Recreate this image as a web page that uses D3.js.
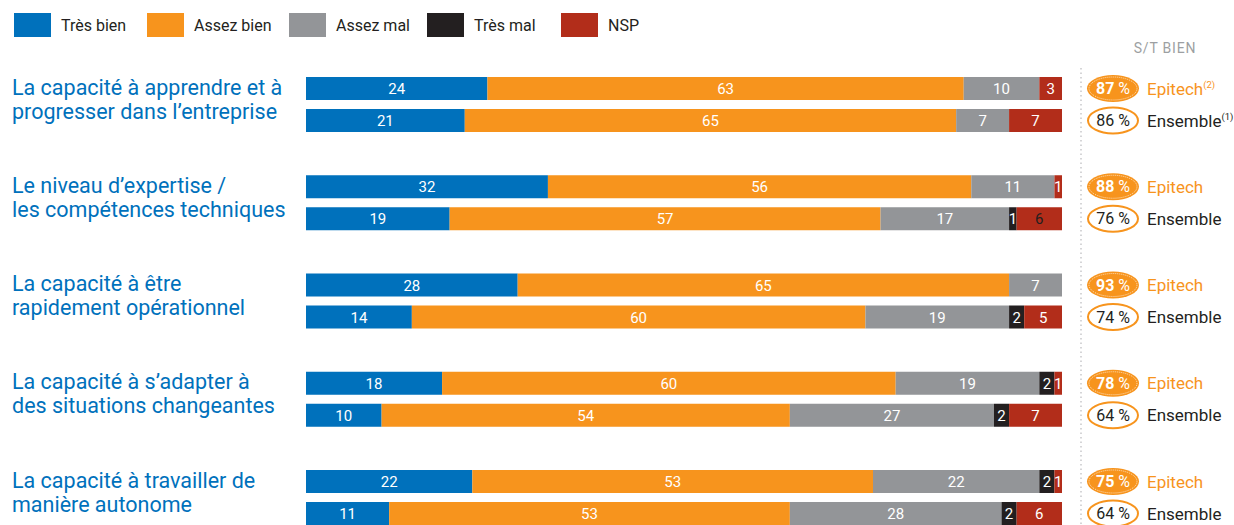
<!DOCTYPE html>
<html>
<head>
<meta charset="utf-8">
<script src="https://cdn.jsdelivr.net/npm/d3@7"></script>
<style>
  html, body { margin: 0; padding: 0; background: #fff; }
  svg { display: block; font-family: Roboto, "Noto Sans", sans-serif; }
</style>
</head>
<body>
<svg id="chart" width="1234" height="525"></svg>
<script>
// ---- DATA ----
const categories = [
  ["La capacité à apprendre et à", "progresser dans l\u2019entreprise"],
  ["Le niveau d\u2019expertise /", "les compétences techniques"],
  ["La capacité à être", "rapidement opérationnel"],
  ["La capacité à s\u2019adapter à", "des situations changeantes"],
  ["La capacité à travailler de", "manière autonome"]
];
const groups = ["Epitech", "Ensemble"];
const seriesNames = ["Très bien", "Assez bien", "Assez mal", "Très mal", "NSP"];
// values per row: [cat0-Epitech, cat0-Ensemble, cat1-Epitech, ...]
const tresBien  = [24, 21, 32, 19, 28, 14, 18, 10, 22, 11];
const assezBien = [63, 65, 56, 57, 65, 60, 60, 54, 53, 53];
const assezMal  = [10, 7, 11, 17, 7, 19, 19, 27, 22, 28];
const tresMal   = [0, 0, 0, 1, 0, 2, 2, 2, 2, 2];
const nsp       = [3, 7, 1, 6, 0, 5, 1, 7, 1, 6];
const stEpitech  = [87, 88, 93, 78, 75];
const stEnsemble = [86, 76, 74, 64, 64];
const groupNotes = ["(2)", "(1)"];

// ---- STYLE ----
const colors = ["#0071bc", "#f7941d", "#939598", "#231f20", "#b22d1a"];
const blue = "#0071bc", orange = "#f7941d", dark = "#231f20";

const svg = d3.select("#chart");
const seriesValues = [tresBien, assezBien, assezMal, tresMal, nsp];

const x = d3.scaleLinear().domain([0, 100]).range([306, 1062]);
const catIdx = d3.range(categories.length);
const yCat = d3.scalePoint().domain(catIdx).range([77, 470]);
const yGrp = d3.scaleBand().domain(groups).range([0, 55]).paddingInner(0.28125);
const color = d3.scaleOrdinal().domain(seriesNames).range(colors);

// legend
const legendX = d3.scaleOrdinal().domain(seriesNames).range([14, 147, 289, 427, 561]);
const leg = svg.append("g").selectAll("g").data(seriesNames).join("g")
  .attr("transform", d => `translate(${legendX(d)},13)`);
leg.append("rect").attr("width", 37).attr("height", 24).attr("fill", d => color(d));
leg.append("text").attr("x", 47).attr("y", 18).attr("font-size", 16).attr("fill", dark).text(d => d);

// header
svg.append("text").attr("x", 1165).attr("y", 53).attr("text-anchor", "middle")
  .attr("font-size", 14).attr("letter-spacing", 0.8).attr("fill", "#9d9fa2").text("S/T BIEN");

// dotted separator
svg.append("line").attr("x1", 1081).attr("x2", 1081).attr("y1", 68).attr("y2", 525)
  .attr("stroke", "#c8c8ca").attr("stroke-width", 1.5).attr("stroke-dasharray", "1.5,3");

// rows
const rows = [];
catIdx.forEach(c => groups.forEach((g, gi) => {
  const r = c * 2 + gi;
  let acc = 0;
  const segs = seriesNames.map((s, si) => {
    const v = seriesValues[si][r];
    const seg = { s, si, v, x0: acc, x1: acc + v, r, c, g };
    acc += v;
    return seg;
  }).filter(d => d.v > 0);
  rows.push({ c, g, gi, r, segs });
}));

const rowG = svg.append("g").selectAll("g").data(rows).join("g")
  .attr("transform", d => `translate(0,${yCat(d.c) + yGrp(d.g)})`);
const bh = yGrp.bandwidth();

rowG.selectAll("rect").data(d => d.segs).join("rect")
  .attr("x", d => x(d.x0)).attr("width", d => x(d.x1) - x(d.x0))
  .attr("y", 0).attr("height", bh).attr("fill", d => color(d.s));

rowG.selectAll("text").data(d => d.segs).join("text")
  .attr("x", d => (x(d.x0) + x(d.x1)) / 2).attr("y", bh / 2 + 5.5)
  .attr("text-anchor", "middle").attr("font-size", 15)
  .attr("fill", d => (d.r === 3 && d.si === 4) ? dark : "#fff")
  .text(d => d.v);

// category labels
const lab = svg.append("g").selectAll("text").data(catIdx).join("text")
  .attr("font-size", 21.5).attr("fill", blue);
lab.selectAll("tspan").data(c => categories[c].map((t, i) => ({ t, i, c }))).join("tspan")
  .attr("x", 12).attr("y", d => yCat(d.c) + yGrp("Epitech") + bh / 2 + 6 + d.i * 24)
  .text(d => d.t);

// S/T bien badges
rows.forEach(row => {
  const cy = yCat(row.c) + yGrp(row.g) + bh / 2;
  const val = row.gi === 0 ? stEpitech[row.c] : stEnsemble[row.c];
  const g = svg.append("g").attr("transform", `translate(1113,${cy})`);
  if (row.gi === 0) {
    g.append("ellipse").attr("rx", 26).attr("ry", 13.5).attr("fill", orange);
    g.append("ellipse").attr("rx", 24).attr("ry", 11.5).attr("fill", "none")
      .attr("stroke", "#fff").attr("stroke-width", 0.7).attr("stroke-dasharray", "1,1");
    g.append("text").attr("text-anchor", "middle").attr("y", 5.5).attr("font-size", 16)
      .attr("fill", "#fff").html(`<tspan font-weight="bold">${val}</tspan> %`);
  } else {
    g.append("ellipse").attr("rx", 25).attr("ry", 13).attr("fill", "#fff")
      .attr("stroke", orange).attr("stroke-width", 2);
    g.append("text").attr("text-anchor", "middle").attr("y", 5.5).attr("font-size", 16)
      .attr("fill", dark).text(`${val} %`);
  }
  const t = g.append("text").attr("x", 34).attr("y", 6).attr("font-size", 17)
    .attr("fill", row.gi === 0 ? orange : dark).text(row.g);
  if (row.c === 0) {
    t.append("tspan").attr("font-size", 9.5).attr("dy", -7).text(groupNotes[row.gi]);
  }
});
</script>
</body>
</html>
